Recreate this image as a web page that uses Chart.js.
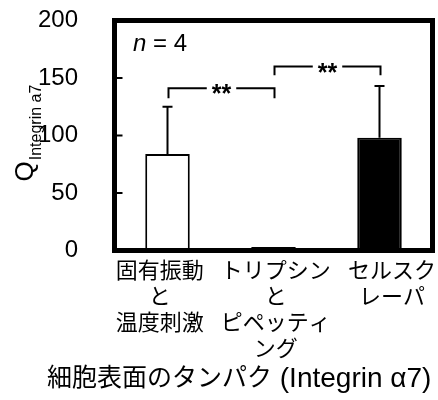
<!DOCTYPE html>
<html><head><meta charset="utf-8">
<script src="https://cdn.jsdelivr.net/npm/chart.js@4/dist/chart.umd.min.js"></script>
<style>html,body{margin:0;padding:0;background:#fff;}</style>
</head><body>
<canvas id="c" width="438" height="400" style="width:438px;height:400px;display:block"></canvas>
<script>
// ---- data ----
const categories = [["固有振動","と","温度刺激"],["トリプシン","と","ピペッティ","ング"],["セルスク","レーパ"]];
const meanValues = [84, 3, 98];
const sdValues = [41, 0, 45];
const barColors = ['#ffffff', '#000000', '#000000'];
const yTickValues = [0, 50, 100, 150, 200];
const comparisons = [[0, 1], [1, 2]];
const bracketTop = [141, 160];
const bracketEnd = [132.5, 152.5];
const bracketLabel = ['**', '**'];
const sampleNote = ['n', ' = 4'];
const yTitleMain = 'Q';
const yTitleSub = 'Integrin a7';
const xTitleParts = ['細胞表面のタンパク', ' (Integrin α7)'];

const FAM = "'Liberation Sans','Noto Sans CJK JP',sans-serif";
const LABEL_MIN = -0.39, LABEL_MAX = 2.35;

const decor = {
  id: 'decor',
  afterDatasetsDraw(chart) {
    const {ctx, chartArea: a, scales} = chart;
    const ys = scales.y;
    const meta = chart.getDatasetMeta(0);
    ctx.save();
    ctx.strokeStyle = '#000';
    ctx.fillStyle = '#000';
    ctx.lineCap = 'butt';
    // error bars (upper only)
    ctx.lineWidth = 2;
    meta.data.forEach((bar, i) => {
      if (!sdValues[i]) return;
      const x = bar.x;
      const y0 = ys.getPixelForValue(meanValues[i]);
      const y1 = ys.getPixelForValue(meanValues[i] + sdValues[i]);
      ctx.beginPath();
      ctx.moveTo(x, y0); ctx.lineTo(x, y1);
      ctx.moveTo(x - 5, y1); ctx.lineTo(x + 5, y1);
      ctx.stroke();
    });
    // significance brackets
    ctx.font = 'bold 25px ' + FAM;
    ctx.textAlign = 'center';
    ctx.textBaseline = 'alphabetic';
    comparisons.forEach((pair, k) => {
      const xa = meta.data[pair[0]].x + 1;
      const xb = meta.data[pair[1]].x + 1;
      const yt = ys.getPixelForValue(bracketTop[k]);
      const ye = ys.getPixelForValue(bracketEnd[k]);
      const xm = (xa + xb) / 2;
      const half = ctx.measureText(bracketLabel[k]).width / 2 + 5;
      ctx.beginPath();
      ctx.moveTo(xa, ye); ctx.lineTo(xa, yt); ctx.lineTo(xm - half, yt);
      ctx.moveTo(xm + half, yt); ctx.lineTo(xb, yt); ctx.lineTo(xb, ye);
      ctx.stroke();
      ctx.fillText(bracketLabel[k], xm, yt + 14);
    });
    // inner ticks on left axis
    ctx.lineWidth = 2;
    yTickValues.forEach(v => {
      if (v === ys.min || v === ys.max) return;
      const y = ys.getPixelForValue(v);
      ctx.beginPath(); ctx.moveTo(a.left, y); ctx.lineTo(a.left + 8, y); ctx.stroke();
    });
    // frame
    ctx.lineWidth = 5;
    ctx.lineJoin = 'miter';
    ctx.strokeRect(a.left, a.top, a.right - a.left, a.bottom - a.top);
    // n = 4
    ctx.textAlign = 'left';
    ctx.font = 'italic 24px ' + FAM;
    const nx = a.left + 18.5, ny = a.top + 30;
    ctx.fillText(sampleNote[0], nx, ny);
    const nw = ctx.measureText(sampleNote[0]).width;
    ctx.font = '24px ' + FAM;
    ctx.fillText(sampleNote[1], nx + nw, ny);
    // x axis title
    ctx.textBaseline = 'middle';
    ctx.font = '25px ' + FAM;
    const tx = 47, ty = 379;
    ctx.fillText(xTitleParts[0], tx, ty);
    const tw = ctx.measureText(xTitleParts[0]).width;
    ctx.font = '28px ' + FAM;
    ctx.fillText(xTitleParts[1], tx + tw, ty);
    // y axis title: Q with subscript, rotated
    ctx.textBaseline = 'alphabetic';
    ctx.translate(a.left - 82, a.bottom - 69);
    ctx.rotate(-Math.PI / 2);
    ctx.font = '26px ' + FAM;
    ctx.fillText(yTitleMain, 0, 0);
    const qw = ctx.measureText(yTitleMain).width;
    ctx.font = '16px ' + FAM;
    ctx.fillText(yTitleSub, qw + 1, 8);
    ctx.restore();
  }
};

new Chart(document.getElementById('c'), {
  type: 'bar',
  data: {
    labels: categories.map((c, i) => i),
    datasets: [{
      data: meanValues,
      backgroundColor: barColors,
      borderColor: '#000',
      borderWidth: 2,
      barPercentage: 0.42,
      categoryPercentage: 1,
      xAxisID: 'x',
      yAxisID: 'y'
    }]
  },
  options: {
    responsive: false,
    animation: false,
    devicePixelRatio: 1,
    layout: {padding: {left: 0, top: 20.5, right: 5.5, bottom: 0}},
    plugins: {legend: {display: false}, tooltip: {enabled: false}},
    scales: {
      x: {type: 'category', display: false, offset: true},
      xl: {
        type: 'linear', position: 'bottom', bounds: 'data', offset: false,
        min: LABEL_MIN, max: LABEL_MAX,
        grid: {display: false, drawTicks: false, offset: false}, border: {display: false},
        afterBuildTicks: s => {
          s.ticks = categories.map((c, i) => ({value: i}));
          s.min = LABEL_MIN; s.max = LABEL_MAX;
        },
        ticks: {
          autoSkip: false, maxRotation: 0, minRotation: 0, padding: 8.5,
          color: '#000', font: {family: FAM, size: 22, lineHeight: '26px'},
          callback: v => categories[v] || ''
        },
        afterFit: s => { s.height = 149.5; s.paddingLeft = 0; s.paddingRight = 0; }
      },
      y: {
        min: 0, max: 200,
        grid: {display: false, drawTicks: false}, border: {display: false},
        afterBuildTicks: s => { s.ticks = yTickValues.map(v => ({value: v})); },
        ticks: {padding: 36.5, color: '#000', font: {family: FAM, size: 24}},
        afterFit: s => { s.width = 114.5; s.paddingTop = 0; s.paddingBottom = 0; }
      }
    }
  },
  plugins: [decor]
});
</script>
</body></html>
